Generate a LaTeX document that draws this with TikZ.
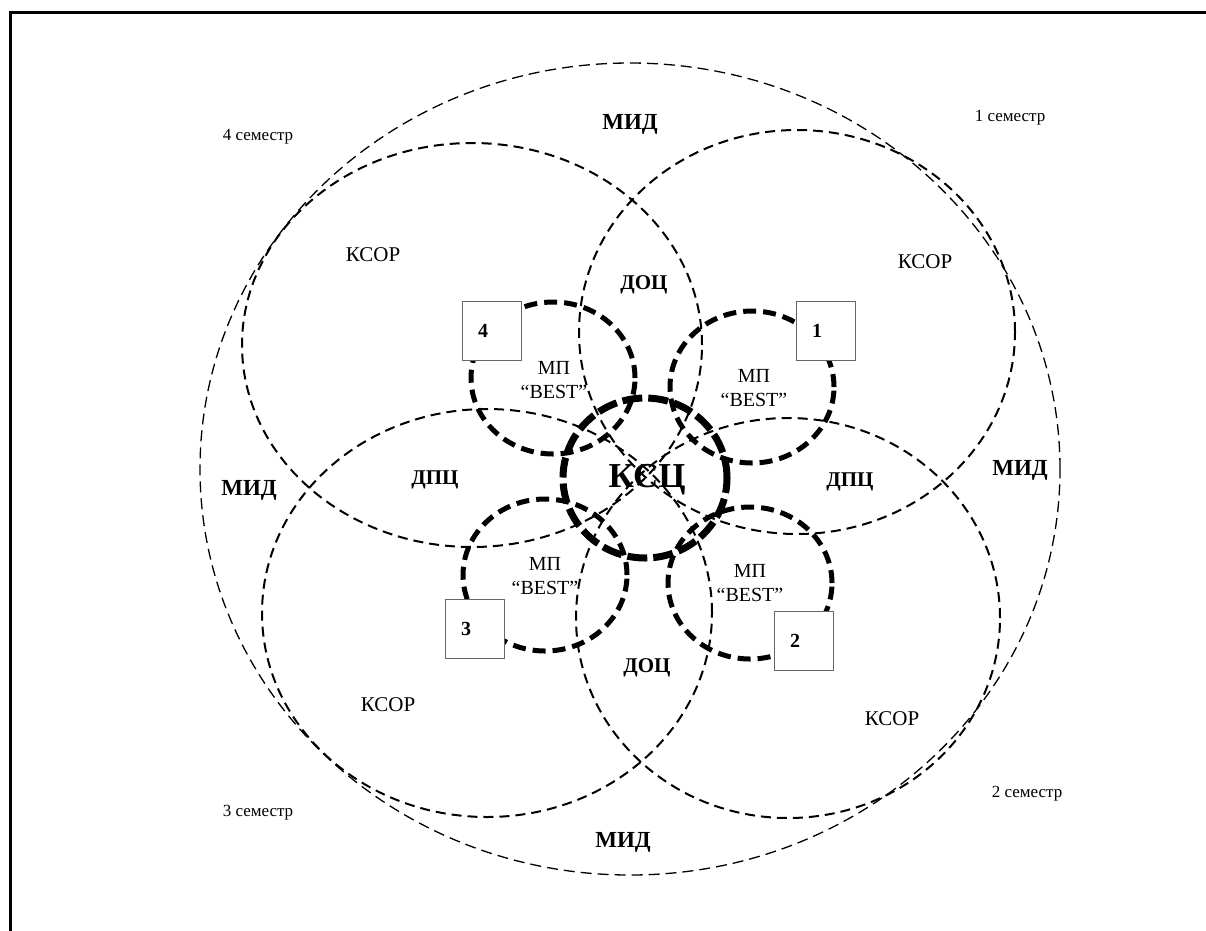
\documentclass[tikz,border=0pt]{standalone}
\usepackage{fontspec}
\setmainfont{Liberation Serif}
\begin{document}
\begin{tikzpicture}[x=1pt,y=-1pt,
    frame/.style={line width=3pt},
    outer ring/.style={dash pattern=on 11pt off 6pt, line width=1.3pt},
    ring/.style={dash pattern=on 10pt off 6pt, line width=2pt},
    bold ring/.style={dash pattern=on 13pt off 7pt, line width=5pt},
    core ring/.style={dash pattern=on 20pt off 6pt, line width=7pt},
    zone/.style={font=\fontsize{21}{24}\selectfont},
    bold zone/.style={font=\bfseries\fontsize{21}{24}\selectfont},
    mid zone/.style={font=\bfseries\fontsize{23}{26}\selectfont},
    core zone/.style={font=\bfseries\fontsize{35}{40}\selectfont},
    term/.style={font=\fontsize{17}{20}\selectfont},
    best/.style={align=center, font=\fontsize{20}{24}\selectfont},
    numbox/.style={draw=black!60, line width=1.2pt, fill=white,
      minimum size=59pt, inner sep=0pt, text width=28pt, align=left,
      font=\bfseries\fontsize{20}{24}\selectfont}]
  \useasboundingbox (0,0) rectangle (1206,930);
  \draw[frame] (10,940) -- (10,12) -- (1216,12);

  \draw[outer ring] (630,469) ellipse [x radius=430pt, y radius=406pt];
  \begin{scope}[ring]
    \draw (472,345) ellipse [x radius=230pt, y radius=202pt];
    \draw (797,332) ellipse [x radius=218pt, y radius=202pt];
    \draw (487,613) ellipse [x radius=225pt, y radius=204pt];
    \draw (788,618) ellipse [x radius=212pt, y radius=200pt];
  \end{scope}
  \begin{scope}[bold ring]
    \draw (553,378) ellipse [x radius=82pt, y radius=76pt];
    \draw (752,387) ellipse [x radius=82pt, y radius=76pt];
    \draw (545,575) ellipse [x radius=82pt, y radius=76pt];
    \draw (750,583) ellipse [x radius=82pt, y radius=76pt];
  \end{scope}
  \draw[core ring] (645,478) ellipse [x radius=82pt, y radius=80pt];

  \node[numbox] (box1) at (826,331) {1};
  \node[numbox] (box2) at (804,641) {2};
  \node[numbox] (box3) at (475,629) {3};
  \node[numbox] (box4) at (492,331) {4};

  \draw
    (258,137) node[term] (sem4) {4 семестр}
    (1010,118) node[term] (sem1) {1 семестр}
    (258,813) node[term] (sem3) {3 семестр}
    (1027,794) node[term] (sem2) {2 семестр}
    (630,124) node[mid zone] (midN) {МИД}
    (249,490) node[mid zone] (midW) {МИД}
    (1020,470) node[mid zone] (midE) {МИД}
    (623,842) node[mid zone] (midS) {МИД}
    (373,255) node[zone] (ksorNW) {КСОР}
    (925,262) node[zone] (ksorNE) {КСОР}
    (388,705) node[zone] (ksorSW) {КСОР}
    (892,719) node[zone] (ksorSE) {КСОР}
    (644,285) node[bold zone] (docN) {ДОЦ}
    (647,668) node[bold zone] (docS) {ДОЦ}
    (435,480) node[bold zone] (dpcW) {ДПЦ}
    (850,482) node[bold zone] (dpcE) {ДПЦ}
    (647,480) node[core zone] (ksc) {КСЦ}
    (554,380) node[best] (mp4) {МП\\“BEST”}
    (754,388) node[best] (mp1) {МП\\“BEST”}
    (545,576) node[best] (mp3) {МП\\“BEST”}
    (750,583) node[best] (mp2) {МП\\“BEST”};
\end{tikzpicture}
\end{document}
